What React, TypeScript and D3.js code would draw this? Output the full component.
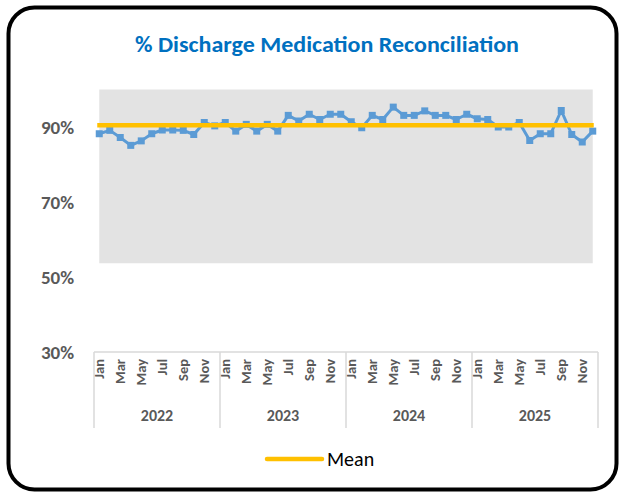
import React from "react"
import * as d3 from "d3"

// values
const years = ["2022", "2023", "2024", "2025"]
const months = ["Jan", "Feb", "Mar", "Apr", "May", "Jun", "Jul", "Aug", "Sep", "Oct", "Nov", "Dec"]
const shownMonths = ["Jan", "Mar", "May", "Jul", "Sep", "Nov"]
const pctValues = [
  88.2, 89.1, 87.2, 85.1, 86.3, 88.2, 89.2, 89.2, 89.1, 88.0, 91.2, 90.3,
  91.2, 88.9, 90.7, 88.9, 90.7, 88.9, 93.1, 91.6, 93.4, 92.0, 93.4, 93.4,
  91.4, 89.8, 93.1, 92.0, 95.3, 93.1, 93.1, 94.3, 93.1, 93.1, 92.0, 93.4,
  92.2, 92.0, 90.0, 90.0, 91.2, 86.4, 88.2, 88.2, 94.4, 88.0, 86.0, 88.9,
]
const meanValue = 90.5
const bandUpper = 100
const bandLower = 53.7
const yTicks = [30, 50, 70, 90]

const FONT = "Carlito, Calibri, Lato, sans-serif"
const GREY_TXT = "#595959"

export default function App() {
  const W = 620
  const H = 495

  // one slot per month, grouped by year
  const keys = years.flatMap(y => months.map(m => `${y}-${m}`))
  const x = d3.scaleBand().domain(keys).range([94, 598])
  const cx = (i: number) => (x(keys[i]) as number) + x.bandwidth() / 2
  const y = d3.scaleLinear().domain([30, 100]).range([352, 89.5])

  const line = d3.line<number>()
    .x((d, i) => cx(i))
    .y(d => y(d))

  const band = d3.area<string>()
    .x((d, i) => cx(i))
    .y0(() => y(bandLower))
    .y1(() => y(bandUpper))

  const axTop = 352
  const axBottom = 428

  return (
    <svg width={W} height={H} style={{ position: "absolute", left: 0, top: 0, background: "#fff" }}>
      <rect x={8.5} y={7.5} width={608} height={482} rx={26} ry={26}
        fill="#fff" stroke="#000" strokeWidth={4} />

      <text x={327} y={52} textAnchor="middle" fontFamily={FONT} fontWeight="bold"
        fontSize={21.5} fill="#0070C0" textLength={384} lengthAdjust="spacingAndGlyphs">
        % Discharge Medication Reconciliation</text>

      {/* grey band */}
      <path d={band(keys) as string} fill="#e3e3e3" />

      {/* y labels */}
      {yTicks.map(t => (
        <text key={t} x={74} y={y(t)} dy="0.35em" textAnchor="end" fontFamily={FONT}
          fontWeight="bold" fontSize={19} fill={GREY_TXT}>{t}%</text>
      ))}

      {/* category axis box */}
      <g stroke="#d9d9d9" strokeWidth={1.5}>
        <line x1={x.range()[0]} x2={x.range()[1]} y1={axTop} y2={axTop} />
        {d3.range(years.length + 1).map(j => {
          const xx = x.range()[0] + j * 12 * x.step()
          return <line key={j} x1={xx} x2={xx} y1={axTop} y2={axBottom} />
        })}
      </g>

      {keys.map((k, i) => {
        const m = months[i % 12]
        if (!shownMonths.includes(m)) return null
        return (
          <text key={k} transform={`translate(${cx(i) + 5},${359}) rotate(-90)`}
            textAnchor="end" fontFamily={FONT} fontWeight="bold" fontSize={14.5}
            fill={GREY_TXT}>{m}</text>
        )
      })}

      {years.map((yr, j) => (
        <text key={yr} x={x.range()[0] + (j + 0.5) * 12 * x.step()} y={421}
          textAnchor="middle" fontFamily={FONT} fontWeight="bold" fontSize={16}
          fill={GREY_TXT}>{yr}</text>
      ))}

      {/* data line */}
      <path d={line(pctValues) as string} fill="none" stroke="#5B9BD5" strokeWidth={3}
        strokeLinejoin="round" />
      {pctValues.map((v, i) => (
        <rect key={i} x={cx(i) - 3.5} y={y(v) - 3.5} width={7} height={7} fill="#5B9BD5" />
      ))}

      {/* mean */}
      <line x1={cx(0) - 2} x2={cx(keys.length - 1) + 1} y1={y(meanValue)} y2={y(meanValue)}
        stroke="#FFC000" strokeWidth={4.5} />

      {/* legend */}
      <line x1={267} x2={322} y1={459} y2={459} stroke="#FFC000" strokeWidth={4.5}
        strokeLinecap="round" />
      <text x={327} y={466} fontFamily={FONT} fontSize={20} fill="#000">Mean</text>
    </svg>
  )
}
